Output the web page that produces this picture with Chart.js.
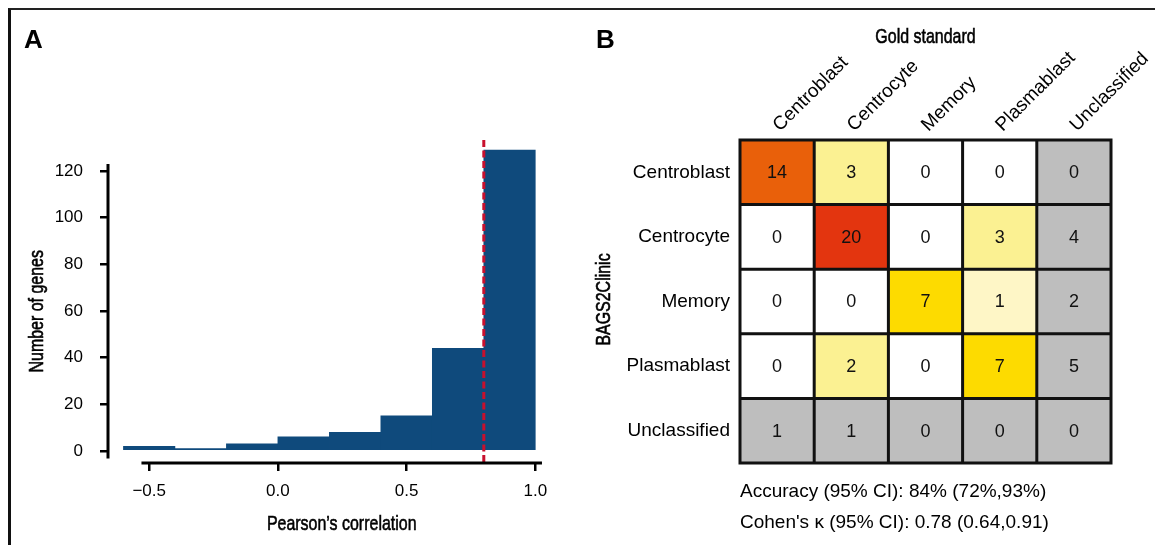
<!DOCTYPE html>
<html>
<head>
<meta charset="utf-8">
<script src="https://cdn.jsdelivr.net/npm/chart.js@4"></script>
<style>
  body { margin: 0; background: #fff; }
  #page { position: relative; width: 1155px; height: 545px; overflow: hidden; }
  #frame { position: absolute; left: 8px; top: 8px; width: 1300px; height: 700px;
           border-top: 2px solid #222; border-left: 3px solid #111; }
  #histCanvas { position: absolute; left: 0; top: 0; }
  #matrixCanvas { position: absolute; left: 580px; top: 0; }
</style>
</head>
<body>
<div id="page">
  <div id="frame"></div>
  <canvas id="histCanvas" width="580" height="545"></canvas>
  <canvas id="matrixCanvas" width="575" height="545"></canvas>
</div>
<script>
// Panel A: histogram of per-gene Pearson correlations
const binEdges = [-0.6, -0.4, -0.2, 0.0, 0.2, 0.4, 0.6, 0.8, 1.0];
const geneCounts = [2, 1, 3, 6, 8, 15, 44, 129];
const corrTicks = [-0.5, 0.0, 0.5, 1.0];
const countTicks = [0, 20, 40, 60, 80, 100, 120];
const cutoff = 0.8;

// Panel B: confusion matrix, rows = BAGS2Clinic, columns = gold standard
const goldClasses = ['Centroblast', 'Centrocyte', 'Memory', 'Plasmablast', 'Unclassified'];
const bagsClasses = ['Centroblast', 'Centrocyte', 'Memory', 'Plasmablast', 'Unclassified'];
const centroblastRow = [14, 3, 0, 0, 0];
const centrocyteRow = [0, 20, 0, 3, 4];
const memoryRow = [0, 0, 7, 1, 2];
const plasmablastRow = [0, 2, 0, 7, 5];
const unclassifiedRow = [1, 1, 0, 0, 0];
const confusion = [centroblastRow, centrocyteRow, memoryRow, plasmablastRow, unclassifiedRow];
const summaryLines = [
  'Accuracy (95% CI): 84% (72%,93%)',
  "Cohen's \u03ba (95% CI): 0.78 (0.64,0.91)"
];

const SANS = "'Liberation Sans', Arial, Helvetica, sans-serif";

function fmtCorr(v) {
  return (v < 0 ? '\u2212' : '') + Math.abs(v).toFixed(1);
}

function cellColor(v, unclassified) {
  if (unclassified) return '#bebebe';
  if (v === 0) return '#ffffff';
  if (v <= 1) return '#fef6c6';
  if (v <= 3) return '#fbf192';
  if (v <= 7) return '#fddb00';
  if (v <= 14) return '#e9600a';
  return '#e3350f';
}

// no condensed face installed, so squeeze the regular one for the axis titles
function narrowText(ctx, text, x, y, angle) {
  ctx.save();
  ctx.translate(x, y);
  if (angle) ctx.rotate(angle);
  ctx.scale(0.76, 1);
  ctx.font = '21px ' + SANS;
  ctx.fillStyle = '#000';
  ctx.strokeStyle = '#000';
  ctx.lineWidth = 0.6;
  ctx.textAlign = 'center';
  ctx.textBaseline = angle ? 'middle' : 'alphabetic';
  ctx.fillText(text, 0, 0);
  ctx.strokeText(text, 0, 0);
  ctx.restore();
}

// ---------- Panel A ----------
const histData = geneCounts.map((n, i) => ({ x: (binEdges[i] + binEdges[i + 1]) / 2, y: n }));

const histDecor = {
  id: 'histDecor',
  afterDatasetsDraw(chart) {
    const { ctx, chartArea, scales: { x, y } } = chart;
    ctx.save();
    // dashed cutoff line
    const cx = x.getPixelForValue(cutoff);
    ctx.strokeStyle = '#c8102e';
    ctx.lineWidth = 3;
    ctx.setLineDash([7, 3.5]);
    ctx.beginPath();
    ctx.moveTo(cx, chartArea.top);
    ctx.lineTo(cx, chartArea.bottom);
    ctx.stroke();
    ctx.setLineDash([]);

    // R-style detached axis lines
    const xl = x.getPixelForValue(-0.53), xr = x.getPixelForValue(1.026);
    const yt = y.getPixelForValue(123), yb = y.getPixelForValue(-3.3);
    ctx.strokeStyle = '#000';
    ctx.lineWidth = 3;
    ctx.beginPath();
    ctx.moveTo(xl, chartArea.bottom);
    ctx.lineTo(xr, chartArea.bottom);
    ctx.moveTo(chartArea.left, yt);
    ctx.lineTo(chartArea.left, yb);
    ctx.stroke();

    // panel letter and axis titles
    ctx.fillStyle = '#000';
    ctx.font = 'bold 26px ' + SANS;
    ctx.textAlign = 'left';
    ctx.textBaseline = 'alphabetic';
    ctx.fillText('A', 24, 48);
    ctx.restore();

    narrowText(ctx, 'Pearson\u2019s correlation', (xl + xr) / 2, 530);
    narrowText(ctx, 'Number of genes', 37, (yt + yb) / 2, -Math.PI / 2);
  }
};

new Chart(document.getElementById('histCanvas'), {
  type: 'bar',
  data: {
    datasets: [{
      data: histData,
      backgroundColor: '#0f4a7c',
      borderWidth: 0,
      barPercentage: 1,
      categoryPercentage: 1
    }]
  },
  options: {
    responsive: false,
    animation: false,
    layout: { padding: { left: 0, right: 37, top: 140, bottom: 0 } },
    plugins: { legend: { display: false }, tooltip: { enabled: false } },
    scales: {
      x: {
        type: 'linear',
        min: -0.66,
        max: 1.03,
        offset: false,
        afterFit(s) { s.height = 82; },
        afterBuildTicks(s) { s.ticks = corrTicks.map(v => ({ value: v })); },
        grid: { drawOnChartArea: false, drawTicks: true, tickLength: 8, color: '#000', lineWidth: 2.5, offset: false },
        border: { display: false },
        ticks: {
          color: '#000', padding: 10, maxRotation: 0, autoSkip: false,
          font: { size: 17, family: SANS },
          callback: v => fmtCorr(v)
        }
      },
      y: {
        min: -5.2,
        max: 133.3,
        afterFit(s) { s.width = 108; },
        afterBuildTicks(s) { s.ticks = countTicks.map(v => ({ value: v })); },
        grid: { drawOnChartArea: false, drawTicks: true, tickLength: 8, color: '#000', lineWidth: 2.5 },
        border: { display: false },
        ticks: {
          color: '#000', padding: 17, autoSkip: false,
          font: { size: 17, family: SANS },
          callback: v => String(v)
        }
      }
    }
  },
  plugins: [histDecor]
});

// ---------- Panel B ----------
const lastIdx = goldClasses.length - 1;
const matrixSets = confusion.map((row, r) => ({
  label: bagsClasses[r],
  data: row.map(() => 1),
  backgroundColor: row.map((v, c) => cellColor(v, r === lastIdx || c === lastIdx)),
  borderWidth: 0,
  barPercentage: 1,
  categoryPercentage: 1,
  stack: 'matrix'
}));

const matrixDecor = {
  id: 'matrixDecor',
  afterDatasetsDraw(chart) {
    const { ctx, chartArea, scales: { x, y } } = chart;
    ctx.save();

    // cell counts
    ctx.fillStyle = '#111';
    ctx.font = '18px ' + SANS;
    ctx.textAlign = 'center';
    ctx.textBaseline = 'middle';
    confusion.forEach((row, r) => {
      row.forEach((v, c) => {
        ctx.fillText(String(v), x.getPixelForValue(c), y.getPixelForValue(r + 0.5) + 1);
      });
    });

    // cell borders
    ctx.strokeStyle = '#111';
    ctx.lineWidth = 3;
    ctx.lineCap = 'square';
    ctx.beginPath();
    for (let c = 0; c <= goldClasses.length; c++) {
      const px = x.getPixelForValue(c - 0.5);
      ctx.moveTo(px, chartArea.top);
      ctx.lineTo(px, chartArea.bottom);
    }
    for (let r = 0; r <= bagsClasses.length; r++) {
      const py = y.getPixelForValue(r);
      ctx.moveTo(chartArea.left, py);
      ctx.lineTo(chartArea.right, py);
    }
    ctx.stroke();

    // rotated gold-standard labels
    ctx.fillStyle = '#000';
    ctx.font = '19px ' + SANS;
    ctx.textAlign = 'left';
    ctx.textBaseline = 'alphabetic';
    goldClasses.forEach((name, c) => {
      ctx.save();
      ctx.translate(x.getPixelForValue(c) + 3, chartArea.top - 8);
      ctx.rotate(-Math.PI / 4);
      ctx.fillText(name, 0, 0);
      ctx.restore();
    });

    // summary statistics
    summaryLines.forEach((line, i) => {
      ctx.fillText(line, chartArea.left, 497 + i * 31);
    });

    // panel letter
    ctx.font = 'bold 26px ' + SANS;
    ctx.fillText('B', 16, 48);
    ctx.restore();

    narrowText(ctx, 'Gold standard', (chartArea.left + chartArea.right) / 2, 43);
    narrowText(ctx, 'BAGS2Clinic', 24.5, (chartArea.top + chartArea.bottom) / 2 - 2, -Math.PI / 2);
  }
};

new Chart(document.getElementById('matrixCanvas'), {
  type: 'bar',
  data: { labels: goldClasses, datasets: matrixSets },
  options: {
    responsive: false,
    animation: false,
    layout: { padding: { left: 0, right: 44, top: 140, bottom: 82 } },
    plugins: { legend: { display: false }, tooltip: { enabled: false } },
    scales: {
      x: {
        stacked: true,
        display: false,
        offset: true
      },
      y: {
        stacked: true,
        reverse: true,
        min: 0,
        max: bagsClasses.length,
        afterFit(s) { s.width = 160; },
        afterBuildTicks(s) { s.ticks = bagsClasses.map((_, i) => ({ value: i + 0.5 })); },
        grid: { display: false, drawTicks: false },
        border: { display: false },
        ticks: {
          color: '#000', padding: 10, autoSkip: false,
          font: { size: 19, family: SANS },
          callback: (v, i) => bagsClasses[i]
        }
      }
    }
  },
  plugins: [matrixDecor]
});
</script>
</body>
</html>
